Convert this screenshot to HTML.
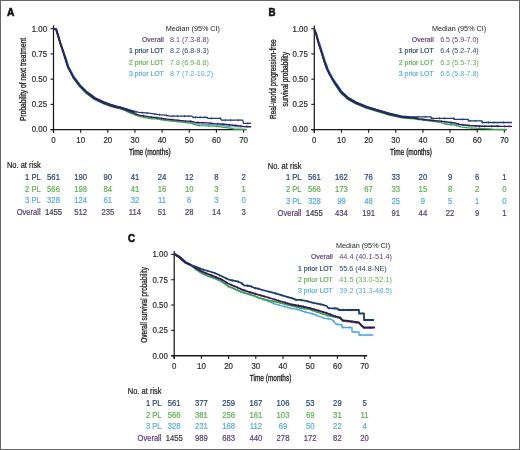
<!DOCTYPE html><html><head><meta charset="utf-8"><style>html,body{margin:0;padding:0;background:#fff;}svg{display:block;will-change:transform;}text{font-family:"Liberation Sans", sans-serif;}</style></head><body>
<svg width="520" height="450" viewBox="0 0 520 450">
<rect x="0" y="0" width="520" height="450" fill="#fff"/>
<text x="7.10" y="16.00" font-size="10.6" text-anchor="start" fill="#111" font-weight="bold" textLength="7.4" lengthAdjust="spacingAndGlyphs" stroke="#111" stroke-width="0.6">A</text>
<line x1="53.5" y1="25.4" x2="53.5" y2="132.79999999999998" stroke="#1a1a1a" stroke-width="1.25"/>
<line x1="50.5" y1="129.6" x2="246.5" y2="129.6" stroke="#1a1a1a" stroke-width="1.4"/>
<line x1="50.5" y1="129.60" x2="53.5" y2="129.60" stroke="#1a1a1a" stroke-width="1.1"/>
<text transform="translate(47.10,132.40) scale(1,1.12)" font-size="7.9" text-anchor="end" fill="#2a2a2a" font-weight="normal" stroke="#2a2a2a" stroke-width="0.18">0.00</text>
<line x1="50.5" y1="104.38" x2="53.5" y2="104.38" stroke="#1a1a1a" stroke-width="1.1"/>
<text transform="translate(47.10,107.17) scale(1,1.12)" font-size="7.9" text-anchor="end" fill="#2a2a2a" font-weight="normal" stroke="#2a2a2a" stroke-width="0.18">0.25</text>
<line x1="50.5" y1="79.15" x2="53.5" y2="79.15" stroke="#1a1a1a" stroke-width="1.1"/>
<text transform="translate(47.10,81.95) scale(1,1.12)" font-size="7.9" text-anchor="end" fill="#2a2a2a" font-weight="normal" stroke="#2a2a2a" stroke-width="0.18">0.50</text>
<line x1="50.5" y1="53.92" x2="53.5" y2="53.92" stroke="#1a1a1a" stroke-width="1.1"/>
<text transform="translate(47.10,56.72) scale(1,1.12)" font-size="7.9" text-anchor="end" fill="#2a2a2a" font-weight="normal" stroke="#2a2a2a" stroke-width="0.18">0.75</text>
<line x1="50.5" y1="28.70" x2="53.5" y2="28.70" stroke="#1a1a1a" stroke-width="1.1"/>
<text transform="translate(47.10,31.50) scale(1,1.12)" font-size="7.9" text-anchor="end" fill="#2a2a2a" font-weight="normal" stroke="#2a2a2a" stroke-width="0.18">1.00</text>
<line x1="53.50" y1="129.6" x2="53.50" y2="132.79999999999998" stroke="#1a1a1a" stroke-width="1.1"/>
<text transform="translate(53.50,142.90) scale(1,1.12)" font-size="7.9" text-anchor="middle" fill="#2a2a2a" font-weight="normal" stroke="#2a2a2a" stroke-width="0.18">0</text>
<line x1="80.65" y1="129.6" x2="80.65" y2="132.79999999999998" stroke="#1a1a1a" stroke-width="1.1"/>
<text transform="translate(80.65,142.90) scale(1,1.12)" font-size="7.9" text-anchor="middle" fill="#2a2a2a" font-weight="normal" stroke="#2a2a2a" stroke-width="0.18">10</text>
<line x1="107.80" y1="129.6" x2="107.80" y2="132.79999999999998" stroke="#1a1a1a" stroke-width="1.1"/>
<text transform="translate(107.80,142.90) scale(1,1.12)" font-size="7.9" text-anchor="middle" fill="#2a2a2a" font-weight="normal" stroke="#2a2a2a" stroke-width="0.18">20</text>
<line x1="134.95" y1="129.6" x2="134.95" y2="132.79999999999998" stroke="#1a1a1a" stroke-width="1.1"/>
<text transform="translate(134.95,142.90) scale(1,1.12)" font-size="7.9" text-anchor="middle" fill="#2a2a2a" font-weight="normal" stroke="#2a2a2a" stroke-width="0.18">30</text>
<line x1="162.10" y1="129.6" x2="162.10" y2="132.79999999999998" stroke="#1a1a1a" stroke-width="1.1"/>
<text transform="translate(162.10,142.90) scale(1,1.12)" font-size="7.9" text-anchor="middle" fill="#2a2a2a" font-weight="normal" stroke="#2a2a2a" stroke-width="0.18">40</text>
<line x1="189.25" y1="129.6" x2="189.25" y2="132.79999999999998" stroke="#1a1a1a" stroke-width="1.1"/>
<text transform="translate(189.25,142.90) scale(1,1.12)" font-size="7.9" text-anchor="middle" fill="#2a2a2a" font-weight="normal" stroke="#2a2a2a" stroke-width="0.18">50</text>
<line x1="216.40" y1="129.6" x2="216.40" y2="132.79999999999998" stroke="#1a1a1a" stroke-width="1.1"/>
<text transform="translate(216.40,142.90) scale(1,1.12)" font-size="7.9" text-anchor="middle" fill="#2a2a2a" font-weight="normal" stroke="#2a2a2a" stroke-width="0.18">60</text>
<line x1="243.55" y1="129.6" x2="243.55" y2="132.79999999999998" stroke="#1a1a1a" stroke-width="1.1"/>
<text transform="translate(243.55,142.90) scale(1,1.12)" font-size="7.9" text-anchor="middle" fill="#2a2a2a" font-weight="normal" stroke="#2a2a2a" stroke-width="0.18">70</text>
<text x="129.00" y="155.20" font-size="8.5" text-anchor="start" fill="#1a1a1a" font-weight="normal" textLength="41.7" lengthAdjust="spacingAndGlyphs" stroke="#1a1a1a" stroke-width="0.3">Time (months)</text>
<text transform="translate(25.9,79.4) rotate(-90)" x="0" y="0" font-size="9.6" text-anchor="middle" fill="#1a1a1a" stroke="#1a1a1a" stroke-width="0.3" textLength="83.2" lengthAdjust="spacingAndGlyphs">Probability of next treatment</text>
<text x="165.80" y="30.90" font-size="7.3" text-anchor="start" fill="#222" font-weight="normal" textLength="54.2" lengthAdjust="spacingAndGlyphs">Median (95% CI)</text>
<text x="163.80" y="42.10" font-size="6.9" text-anchor="end" fill="#5b3a72" font-weight="normal" stroke="#5b3a72" stroke-width="0.18">Overall</text>
<text x="170.00" y="42.10" font-size="7.2" text-anchor="start" fill="#5b3a72" font-weight="normal" textLength="38.8" lengthAdjust="spacingAndGlyphs">8.1 (7.3-8.8)</text>
<text x="163.80" y="53.30" font-size="6.9" text-anchor="end" fill="#2a4572" font-weight="normal" stroke="#2a4572" stroke-width="0.18">1 prior LOT</text>
<text x="170.00" y="53.30" font-size="7.2" text-anchor="start" fill="#2a4572" font-weight="normal" textLength="38.8" lengthAdjust="spacingAndGlyphs">8.2 (6.8-9.3)</text>
<text x="163.80" y="64.50" font-size="6.9" text-anchor="end" fill="#62ad52" font-weight="normal" stroke="#62ad52" stroke-width="0.18">2 prior LOT</text>
<text x="170.00" y="64.50" font-size="7.2" text-anchor="start" fill="#62ad52" font-weight="normal" textLength="38.8" lengthAdjust="spacingAndGlyphs">7.8 (6.9-8.8)</text>
<text x="163.80" y="75.70" font-size="6.9" text-anchor="end" fill="#56abdc" font-weight="normal" stroke="#56abdc" stroke-width="0.18">3 prior LOT</text>
<text x="170.00" y="75.70" font-size="7.2" text-anchor="start" fill="#56abdc" font-weight="normal" textLength="43.2" lengthAdjust="spacingAndGlyphs">8.7 (7.2-10.2)</text>
<polyline points="53.60,28.70 56.20,29.40 60.20,42.80 63.80,53.40 64.70,56.30 68.00,67.00 73.30,77.00 80.00,85.80 86.70,92.60 94.70,98.50 100.00,101.00 104.00,102.90 110.00,105.10 116.00,106.90 120.00,107.80 129.60,112.50 139.20,115.70 148.80,117.45 158.50,118.50 165.00,119.65 174.60,120.60 184.20,121.60 191.90,122.30 196.00,123.85 200.00,124.15 207.30,124.37 215.00,124.90 221.50,125.49 224.20,125.79 230.00,126.54 243.60,126.90 251.00,127.00" fill="none" stroke="#4aa6dc" stroke-width="1.3" stroke-linejoin="round" stroke-linecap="butt" opacity="1"/>
<polyline points="53.60,28.70 56.20,29.40 60.20,42.80 63.80,53.40 64.70,56.30 68.00,67.00 73.30,77.00 80.00,85.80 86.70,92.60 94.70,98.50 100.00,101.00 104.00,102.90 110.00,105.10 116.00,106.90 120.00,107.80 129.60,113.00 139.20,116.30 148.80,118.30 158.50,119.20 165.00,120.40 174.60,121.30 184.20,122.30 191.90,123.30 196.00,125.20 200.00,125.70 215.00,126.20 224.20,127.30 230.00,128.20 234.00,129.00 246.50,129.40" fill="none" stroke="#3fa24a" stroke-width="1.3" stroke-linejoin="round" stroke-linecap="butt" opacity="1"/>
<path d="M136.00 114.20v2.00M143.69 116.24v2.00M152.04 117.60v2.00M160.70 118.61v2.00M170.17 119.88v2.00M178.52 120.71v2.00M187.88 121.78v2.00M192.24 122.46v2.00M199.05 124.58v2.00M208.53 124.98v2.00M216.37 125.36v2.00" stroke="#3fa24a" stroke-width="0.8" fill="none"/>
<polyline points="53.60,28.70 56.20,29.40 60.20,42.80 63.80,53.40 64.70,56.30 68.00,67.00 73.30,77.00 80.00,85.80 86.70,92.60 94.70,98.50 100.00,101.00 104.00,102.90 110.00,105.10 116.00,106.90 120.00,107.80 129.60,112.00 139.20,115.10 148.80,116.60 158.50,117.80 165.00,118.90 174.60,119.90 184.20,120.90 191.90,121.30 195.80,122.50 207.30,122.80 215.00,123.60 221.50,124.00 231.20,125.00 243.60,126.40 251.20,126.60" fill="none" stroke="#3a1a55" stroke-width="1.3" stroke-linejoin="round" stroke-linecap="butt" opacity="1"/>
<path d="M136.00 112.97v2.20M143.41 114.66v2.20M150.95 115.77v2.20M156.88 116.50v2.20M161.74 117.25v2.20M165.34 117.84v2.20M172.12 118.54v2.20M177.98 119.15v2.20M185.22 119.85v2.20M190.62 120.13v2.20M197.91 121.46v2.20M202.82 121.58v2.20M210.27 122.01v2.20M217.37 122.65v2.20M222.96 123.05v2.20M229.15 123.69v2.20M236.02 124.44v2.20M240.55 124.96v2.20M246.80 125.38v2.20" stroke="#3a1a55" stroke-width="0.8" fill="none"/>
<polyline points="53.60,28.70 56.20,29.40 60.20,42.80 63.80,53.40 64.70,56.30 68.00,67.00 73.30,77.00 80.00,85.80 86.70,92.60 94.70,98.50 100.00,101.00 104.00,102.90 110.00,105.10 116.00,106.90 120.00,107.80 129.60,110.50 139.20,112.30 148.80,113.20 158.50,114.60 165.00,115.10 169.80,116.10 191.90,116.10 193.00,117.30 207.30,117.30 207.80,118.40 220.60,118.40 221.50,120.20 242.70,120.20 243.50,123.30 251.20,123.30" fill="none" stroke="#1d3c6c" stroke-width="1.3" stroke-linejoin="round" stroke-linecap="butt" opacity="1"/>
<path d="M136.00 110.60v2.20M142.01 111.46v2.20M147.06 111.94v2.20M154.90 112.98v2.20M159.51 113.58v2.20M166.71 114.36v2.20M172.96 115.00v2.20M177.48 115.00v2.20M184.52 115.00v2.20M188.93 115.00v2.20M195.56 116.20v2.20M200.15 116.20v2.20M204.86 116.20v2.20M211.44 117.30v2.20M220.27 117.30v2.20M225.16 119.10v2.20M230.61 119.10v2.20M238.33 119.10v2.20M247.83 122.20v2.20" stroke="#1d3c6c" stroke-width="0.8" fill="none"/>
<polyline points="65.40,55.60 68.70,66.30 74.00,76.30 80.70,85.10 87.40,91.90 95.40,97.80 100.70,100.30 104.70,102.20 110.70,104.40 116.70,106.20 120.70,107.10 130.30,110.10 135.70,111.90" fill="none" stroke="#4aa6dc" stroke-width="1.2" stroke-linejoin="round" stroke-linecap="butt" opacity="1"/>
<polyline points="72.90,78.00 79.60,86.80 86.30,93.60 94.30,99.50 99.60,102.00 103.60,103.90 109.60,106.10 115.60,107.90 119.60,108.80 129.20,111.80 134.60,113.60" fill="none" stroke="#3fa24a" stroke-width="1.1" stroke-linejoin="round" stroke-linecap="butt" opacity="1"/>
<polyline points="87.20,91.80 95.20,97.70 100.50,100.20 104.50,102.10 110.50,104.30 116.50,106.10 120.50,107.00 130.10,110.00 135.50,111.80" fill="none" stroke="#1d3c6c" stroke-width="1.1" stroke-linejoin="round" stroke-linecap="butt" opacity="1"/>
<polyline points="53.60,28.70 56.20,29.40 60.20,42.80 63.80,53.40 64.70,56.30 68.00,67.00 73.30,77.00 80.00,85.80 86.70,92.60 94.70,98.50 100.00,101.00 104.00,102.90 110.00,105.10 116.00,106.90 120.00,107.80 129.60,110.80 135.00,112.60" fill="none" stroke="#2d2658" stroke-width="2.2" stroke-linejoin="round" stroke-linecap="butt" opacity="1"/>
<text transform="translate(6.90,168.20) scale(1,1.08)" font-size="7.6" text-anchor="start" fill="#222" font-weight="normal" textLength="33.8" lengthAdjust="spacingAndGlyphs" stroke="#222" stroke-width="0.18">No. at risk</text>
<text transform="translate(40.70,179.90) scale(1,1.1)" font-size="7.6" text-anchor="end" fill="#2a4572" font-weight="normal" stroke="#2a4572" stroke-width="0.18">1 PL</text>
<text transform="translate(53.50,179.90) scale(1,1.1)" font-size="7.7" text-anchor="middle" fill="#2a4572" font-weight="normal" stroke="#2a4572" stroke-width="0.18">561</text>
<text transform="translate(80.65,179.90) scale(1,1.1)" font-size="7.7" text-anchor="middle" fill="#2a4572" font-weight="normal" stroke="#2a4572" stroke-width="0.18">190</text>
<text transform="translate(107.80,179.90) scale(1,1.1)" font-size="7.7" text-anchor="middle" fill="#2a4572" font-weight="normal" stroke="#2a4572" stroke-width="0.18">90</text>
<text transform="translate(134.95,179.90) scale(1,1.1)" font-size="7.7" text-anchor="middle" fill="#2a4572" font-weight="normal" stroke="#2a4572" stroke-width="0.18">41</text>
<text transform="translate(162.10,179.90) scale(1,1.1)" font-size="7.7" text-anchor="middle" fill="#2a4572" font-weight="normal" stroke="#2a4572" stroke-width="0.18">24</text>
<text transform="translate(189.25,179.90) scale(1,1.1)" font-size="7.7" text-anchor="middle" fill="#2a4572" font-weight="normal" stroke="#2a4572" stroke-width="0.18">12</text>
<text transform="translate(216.40,179.90) scale(1,1.1)" font-size="7.7" text-anchor="middle" fill="#2a4572" font-weight="normal" stroke="#2a4572" stroke-width="0.18">8</text>
<text transform="translate(243.55,179.90) scale(1,1.1)" font-size="7.7" text-anchor="middle" fill="#2a4572" font-weight="normal" stroke="#2a4572" stroke-width="0.18">2</text>
<text transform="translate(40.70,191.60) scale(1,1.1)" font-size="7.6" text-anchor="end" fill="#62ad52" font-weight="normal" stroke="#62ad52" stroke-width="0.18">2 PL</text>
<text transform="translate(53.50,191.60) scale(1,1.1)" font-size="7.7" text-anchor="middle" fill="#62ad52" font-weight="normal" stroke="#62ad52" stroke-width="0.18">566</text>
<text transform="translate(80.65,191.60) scale(1,1.1)" font-size="7.7" text-anchor="middle" fill="#62ad52" font-weight="normal" stroke="#62ad52" stroke-width="0.18">198</text>
<text transform="translate(107.80,191.60) scale(1,1.1)" font-size="7.7" text-anchor="middle" fill="#62ad52" font-weight="normal" stroke="#62ad52" stroke-width="0.18">84</text>
<text transform="translate(134.95,191.60) scale(1,1.1)" font-size="7.7" text-anchor="middle" fill="#62ad52" font-weight="normal" stroke="#62ad52" stroke-width="0.18">41</text>
<text transform="translate(162.10,191.60) scale(1,1.1)" font-size="7.7" text-anchor="middle" fill="#62ad52" font-weight="normal" stroke="#62ad52" stroke-width="0.18">16</text>
<text transform="translate(189.25,191.60) scale(1,1.1)" font-size="7.7" text-anchor="middle" fill="#62ad52" font-weight="normal" stroke="#62ad52" stroke-width="0.18">10</text>
<text transform="translate(216.40,191.60) scale(1,1.1)" font-size="7.7" text-anchor="middle" fill="#62ad52" font-weight="normal" stroke="#62ad52" stroke-width="0.18">3</text>
<text transform="translate(243.55,191.60) scale(1,1.1)" font-size="7.7" text-anchor="middle" fill="#62ad52" font-weight="normal" stroke="#62ad52" stroke-width="0.18">1</text>
<text transform="translate(40.70,203.30) scale(1,1.1)" font-size="7.6" text-anchor="end" fill="#56abdc" font-weight="normal" stroke="#56abdc" stroke-width="0.18">3 PL</text>
<text transform="translate(53.50,203.30) scale(1,1.1)" font-size="7.7" text-anchor="middle" fill="#56abdc" font-weight="normal" stroke="#56abdc" stroke-width="0.18">328</text>
<text transform="translate(80.65,203.30) scale(1,1.1)" font-size="7.7" text-anchor="middle" fill="#56abdc" font-weight="normal" stroke="#56abdc" stroke-width="0.18">124</text>
<text transform="translate(107.80,203.30) scale(1,1.1)" font-size="7.7" text-anchor="middle" fill="#56abdc" font-weight="normal" stroke="#56abdc" stroke-width="0.18">61</text>
<text transform="translate(134.95,203.30) scale(1,1.1)" font-size="7.7" text-anchor="middle" fill="#56abdc" font-weight="normal" stroke="#56abdc" stroke-width="0.18">32</text>
<text transform="translate(162.10,203.30) scale(1,1.1)" font-size="7.7" text-anchor="middle" fill="#56abdc" font-weight="normal" stroke="#56abdc" stroke-width="0.18">11</text>
<text transform="translate(189.25,203.30) scale(1,1.1)" font-size="7.7" text-anchor="middle" fill="#56abdc" font-weight="normal" stroke="#56abdc" stroke-width="0.18">6</text>
<text transform="translate(216.40,203.30) scale(1,1.1)" font-size="7.7" text-anchor="middle" fill="#56abdc" font-weight="normal" stroke="#56abdc" stroke-width="0.18">3</text>
<text transform="translate(243.55,203.30) scale(1,1.1)" font-size="7.7" text-anchor="middle" fill="#56abdc" font-weight="normal" stroke="#56abdc" stroke-width="0.18">0</text>
<text transform="translate(40.70,215.00) scale(1,1.1)" font-size="7.6" text-anchor="end" fill="#5b3a72" font-weight="normal" stroke="#5b3a72" stroke-width="0.18">Overall</text>
<text transform="translate(53.50,215.00) scale(1,1.1)" font-size="7.7" text-anchor="middle" fill="#3a3540" font-weight="normal" stroke="#3a3540" stroke-width="0.18">1455</text>
<text transform="translate(80.65,215.00) scale(1,1.1)" font-size="7.7" text-anchor="middle" fill="#513c68" font-weight="normal" stroke="#513c68" stroke-width="0.18">512</text>
<text transform="translate(107.80,215.00) scale(1,1.1)" font-size="7.7" text-anchor="middle" fill="#513c68" font-weight="normal" stroke="#513c68" stroke-width="0.18">235</text>
<text transform="translate(134.95,215.00) scale(1,1.1)" font-size="7.7" text-anchor="middle" fill="#513c68" font-weight="normal" stroke="#513c68" stroke-width="0.18">114</text>
<text transform="translate(162.10,215.00) scale(1,1.1)" font-size="7.7" text-anchor="middle" fill="#513c68" font-weight="normal" stroke="#513c68" stroke-width="0.18">51</text>
<text transform="translate(189.25,215.00) scale(1,1.1)" font-size="7.7" text-anchor="middle" fill="#513c68" font-weight="normal" stroke="#513c68" stroke-width="0.18">28</text>
<text transform="translate(216.40,215.00) scale(1,1.1)" font-size="7.7" text-anchor="middle" fill="#513c68" font-weight="normal" stroke="#513c68" stroke-width="0.18">14</text>
<text transform="translate(243.55,215.00) scale(1,1.1)" font-size="7.7" text-anchor="middle" fill="#513c68" font-weight="normal" stroke="#513c68" stroke-width="0.18">3</text>
<text x="268.40" y="16.00" font-size="10.6" text-anchor="start" fill="#111" font-weight="bold" textLength="7.0" lengthAdjust="spacingAndGlyphs" stroke="#111" stroke-width="0.6">B</text>
<line x1="314.3" y1="25.4" x2="314.3" y2="132.79999999999998" stroke="#1a1a1a" stroke-width="1.25"/>
<line x1="311.3" y1="129.6" x2="507.0" y2="129.6" stroke="#1a1a1a" stroke-width="1.4"/>
<line x1="311.3" y1="129.60" x2="314.3" y2="129.60" stroke="#1a1a1a" stroke-width="1.1"/>
<text transform="translate(307.90,132.40) scale(1,1.12)" font-size="7.9" text-anchor="end" fill="#2a2a2a" font-weight="normal" stroke="#2a2a2a" stroke-width="0.18">0.00</text>
<line x1="311.3" y1="104.38" x2="314.3" y2="104.38" stroke="#1a1a1a" stroke-width="1.1"/>
<text transform="translate(307.90,107.17) scale(1,1.12)" font-size="7.9" text-anchor="end" fill="#2a2a2a" font-weight="normal" stroke="#2a2a2a" stroke-width="0.18">0.25</text>
<line x1="311.3" y1="79.15" x2="314.3" y2="79.15" stroke="#1a1a1a" stroke-width="1.1"/>
<text transform="translate(307.90,81.95) scale(1,1.12)" font-size="7.9" text-anchor="end" fill="#2a2a2a" font-weight="normal" stroke="#2a2a2a" stroke-width="0.18">0.50</text>
<line x1="311.3" y1="53.92" x2="314.3" y2="53.92" stroke="#1a1a1a" stroke-width="1.1"/>
<text transform="translate(307.90,56.72) scale(1,1.12)" font-size="7.9" text-anchor="end" fill="#2a2a2a" font-weight="normal" stroke="#2a2a2a" stroke-width="0.18">0.75</text>
<line x1="311.3" y1="28.70" x2="314.3" y2="28.70" stroke="#1a1a1a" stroke-width="1.1"/>
<text transform="translate(307.90,31.50) scale(1,1.12)" font-size="7.9" text-anchor="end" fill="#2a2a2a" font-weight="normal" stroke="#2a2a2a" stroke-width="0.18">1.00</text>
<line x1="314.30" y1="129.6" x2="314.30" y2="132.79999999999998" stroke="#1a1a1a" stroke-width="1.1"/>
<text transform="translate(314.30,142.90) scale(1,1.12)" font-size="7.9" text-anchor="middle" fill="#2a2a2a" font-weight="normal" stroke="#2a2a2a" stroke-width="0.18">0</text>
<line x1="341.45" y1="129.6" x2="341.45" y2="132.79999999999998" stroke="#1a1a1a" stroke-width="1.1"/>
<text transform="translate(341.45,142.90) scale(1,1.12)" font-size="7.9" text-anchor="middle" fill="#2a2a2a" font-weight="normal" stroke="#2a2a2a" stroke-width="0.18">10</text>
<line x1="368.60" y1="129.6" x2="368.60" y2="132.79999999999998" stroke="#1a1a1a" stroke-width="1.1"/>
<text transform="translate(368.60,142.90) scale(1,1.12)" font-size="7.9" text-anchor="middle" fill="#2a2a2a" font-weight="normal" stroke="#2a2a2a" stroke-width="0.18">20</text>
<line x1="395.75" y1="129.6" x2="395.75" y2="132.79999999999998" stroke="#1a1a1a" stroke-width="1.1"/>
<text transform="translate(395.75,142.90) scale(1,1.12)" font-size="7.9" text-anchor="middle" fill="#2a2a2a" font-weight="normal" stroke="#2a2a2a" stroke-width="0.18">30</text>
<line x1="422.90" y1="129.6" x2="422.90" y2="132.79999999999998" stroke="#1a1a1a" stroke-width="1.1"/>
<text transform="translate(422.90,142.90) scale(1,1.12)" font-size="7.9" text-anchor="middle" fill="#2a2a2a" font-weight="normal" stroke="#2a2a2a" stroke-width="0.18">40</text>
<line x1="450.05" y1="129.6" x2="450.05" y2="132.79999999999998" stroke="#1a1a1a" stroke-width="1.1"/>
<text transform="translate(450.05,142.90) scale(1,1.12)" font-size="7.9" text-anchor="middle" fill="#2a2a2a" font-weight="normal" stroke="#2a2a2a" stroke-width="0.18">50</text>
<line x1="477.20" y1="129.6" x2="477.20" y2="132.79999999999998" stroke="#1a1a1a" stroke-width="1.1"/>
<text transform="translate(477.20,142.90) scale(1,1.12)" font-size="7.9" text-anchor="middle" fill="#2a2a2a" font-weight="normal" stroke="#2a2a2a" stroke-width="0.18">60</text>
<line x1="504.35" y1="129.6" x2="504.35" y2="132.79999999999998" stroke="#1a1a1a" stroke-width="1.1"/>
<text transform="translate(504.35,142.90) scale(1,1.12)" font-size="7.9" text-anchor="middle" fill="#2a2a2a" font-weight="normal" stroke="#2a2a2a" stroke-width="0.18">70</text>
<text x="390.10" y="155.20" font-size="8.5" text-anchor="start" fill="#1a1a1a" font-weight="normal" textLength="41.8" lengthAdjust="spacingAndGlyphs" stroke="#1a1a1a" stroke-width="0.3">Time (months)</text>
<text transform="translate(275.5,79.2) rotate(-90)" x="0" y="0" font-size="9.6" text-anchor="middle" fill="#1a1a1a" stroke="#1a1a1a" stroke-width="0.3" textLength="79.5" lengthAdjust="spacingAndGlyphs">Real-world progression-free</text>
<text transform="translate(287.6,79.2) rotate(-90)" x="0" y="0" font-size="9.6" text-anchor="middle" fill="#1a1a1a" stroke="#1a1a1a" stroke-width="0.3" textLength="54.4" lengthAdjust="spacingAndGlyphs">survival probability</text>
<text x="432.00" y="30.90" font-size="7.3" text-anchor="start" fill="#222" font-weight="normal" textLength="54.2" lengthAdjust="spacingAndGlyphs">Median (95% CI)</text>
<text x="433.70" y="42.10" font-size="6.9" text-anchor="end" fill="#5b3a72" font-weight="normal" stroke="#5b3a72" stroke-width="0.18">Overall</text>
<text x="440.20" y="42.10" font-size="7.2" text-anchor="start" fill="#5b3a72" font-weight="normal" textLength="38.5" lengthAdjust="spacingAndGlyphs">6.5 (5.9-7.0)</text>
<text x="433.70" y="53.30" font-size="6.9" text-anchor="end" fill="#2a4572" font-weight="normal" stroke="#2a4572" stroke-width="0.18">1 prior LOT</text>
<text x="440.20" y="53.30" font-size="7.2" text-anchor="start" fill="#2a4572" font-weight="normal" textLength="38.5" lengthAdjust="spacingAndGlyphs">6.4 (5.2-7.4)</text>
<text x="433.70" y="64.50" font-size="6.9" text-anchor="end" fill="#62ad52" font-weight="normal" stroke="#62ad52" stroke-width="0.18">2 prior LOT</text>
<text x="440.20" y="64.50" font-size="7.2" text-anchor="start" fill="#62ad52" font-weight="normal" textLength="38.5" lengthAdjust="spacingAndGlyphs">6.3 (5.5-7.3)</text>
<text x="433.70" y="75.70" font-size="6.9" text-anchor="end" fill="#56abdc" font-weight="normal" stroke="#56abdc" stroke-width="0.18">3 prior LOT</text>
<text x="440.20" y="75.70" font-size="7.2" text-anchor="start" fill="#56abdc" font-weight="normal" textLength="38.5" lengthAdjust="spacingAndGlyphs">6.5 (5.8-7.8)</text>
<polyline points="314.40,29.60 315.00,31.20 316.20,34.00 318.80,43.50 321.20,51.00 323.20,57.50 326.50,64.30 328.60,71.00 327.10,69.00 329.70,74.30 332.00,78.30 336.00,84.60 341.10,92.20 347.80,98.30 355.60,102.80 366.50,107.30 378.10,110.80 389.60,114.20 401.10,116.80 410.00,117.60 417.30,118.50 427.70,119.80 440.40,121.30 448.40,122.60 455.00,124.00 460.00,124.80 470.00,125.50 485.00,125.80 500.00,126.00" fill="none" stroke="#4aa6dc" stroke-width="1.3" stroke-linejoin="round" stroke-linecap="butt" opacity="1"/>
<polyline points="314.40,29.60 315.00,31.20 316.20,34.00 318.80,43.50 321.20,51.00 323.20,57.50 325.10,63.50 327.10,69.00 329.70,74.30 332.00,78.30 336.00,84.60 341.10,92.20 347.80,98.30 355.60,102.80 366.50,107.30 378.10,110.80 389.60,114.20 401.10,116.80 410.00,117.60 417.30,119.40 427.70,120.60 440.40,122.30 445.00,124.00 455.00,125.20 460.80,126.90 468.80,127.80 490.00,128.80 494.00,129.40 507.00,129.50" fill="none" stroke="#3fa24a" stroke-width="1.3" stroke-linejoin="round" stroke-linecap="butt" opacity="1"/>
<path d="M418.00 118.48v2.00M423.47 119.11v2.00M433.06 120.32v2.00M437.97 120.97v2.00M446.11 123.13v2.00M450.79 123.69v2.00M456.38 124.60v2.00M466.17 126.50v2.00M471.54 126.93v2.00M479.34 127.30v2.00" stroke="#3fa24a" stroke-width="0.8" fill="none"/>
<polyline points="314.40,29.60 315.00,31.20 316.20,34.00 318.80,43.50 321.20,51.00 323.20,57.50 325.10,63.50 327.10,69.00 329.70,74.30 332.00,78.30 336.00,84.60 341.10,92.20 347.80,98.30 355.60,102.80 366.50,107.30 378.10,110.80 389.60,114.20 401.10,116.80 410.00,117.60 417.30,118.80 427.70,120.00 440.40,121.10 448.40,122.10 455.00,122.90 459.60,124.40 468.80,125.50 482.70,126.30 512.00,126.30" fill="none" stroke="#3a1a55" stroke-width="1.3" stroke-linejoin="round" stroke-linecap="butt" opacity="1"/>
<path d="M418.00 117.78v2.20M423.82 118.45v2.20M429.21 119.03v2.20M433.48 119.40v2.20M441.24 120.10v2.20M444.87 120.56v2.20M450.88 121.30v2.20M458.79 123.04v2.20M462.78 123.68v2.20M469.04 124.41v2.20M475.60 124.79v2.20M479.40 125.01v2.20M484.82 125.20v2.20M491.80 125.20v2.20M497.57 125.20v2.20M504.65 125.20v2.20M509.00 125.20v2.20" stroke="#3a1a55" stroke-width="0.8" fill="none"/>
<polyline points="314.40,29.60 315.00,31.20 316.20,34.00 318.80,43.50 321.20,51.00 323.20,57.50 325.10,63.50 327.10,69.00 329.70,74.30 332.00,78.30 336.00,84.60 341.10,92.20 347.80,98.30 355.60,102.80 366.50,107.30 378.10,110.80 389.60,114.20 401.10,116.80 410.00,117.60 417.30,116.80 431.10,116.80 431.10,118.30 454.20,118.30 454.20,119.40 468.30,119.40 468.30,120.90 482.10,120.90 482.10,122.50 512.10,122.50" fill="none" stroke="#1d3c6c" stroke-width="1.3" stroke-linejoin="round" stroke-linecap="butt" opacity="1"/>
<path d="M418.00 115.70v2.20M425.40 115.70v2.20M432.00 117.20v2.20M439.44 117.20v2.20M444.79 117.20v2.20M453.55 117.20v2.20M462.36 118.30v2.20M470.22 119.80v2.20M475.32 119.80v2.20M482.43 121.40v2.20M488.47 121.40v2.20M494.07 121.40v2.20M503.60 121.40v2.20" stroke="#1d3c6c" stroke-width="0.8" fill="none"/>
<polyline points="319.50,42.80 321.90,50.30 323.90,56.80 325.80,62.80 327.80,68.30 330.40,73.60 332.70,77.60 336.70,83.90 341.80,91.50 348.50,97.60 356.30,102.10 367.20,106.60 378.80,110.10 390.30,113.50 401.80,116.10 410.70,116.90 418.00,117.30" fill="none" stroke="#4aa6dc" stroke-width="1.2" stroke-linejoin="round" stroke-linecap="butt" opacity="1"/>
<polyline points="331.60,79.30 335.60,85.60 340.70,93.20 347.40,99.30 355.20,103.80 366.10,108.30 377.70,111.80 389.20,115.20 400.70,117.80 409.60,118.60 416.90,119.00" fill="none" stroke="#3fa24a" stroke-width="1.1" stroke-linejoin="round" stroke-linecap="butt" opacity="1"/>
<polyline points="336.50,83.80 341.60,91.40 348.30,97.50 356.10,102.00 367.00,106.50 378.60,110.00 390.10,113.40 401.60,116.00 410.50,116.80 417.80,117.20" fill="none" stroke="#1d3c6c" stroke-width="1.1" stroke-linejoin="round" stroke-linecap="butt" opacity="1"/>
<polyline points="314.40,29.60 315.00,31.20 316.20,34.00 318.80,43.50 321.20,51.00 323.20,57.50 325.10,63.50 327.10,69.00 329.70,74.30 332.00,78.30 336.00,84.60 341.10,92.20 347.80,98.30 355.60,102.80 366.50,107.30 378.10,110.80 389.60,114.20 401.10,116.80 410.00,117.60 417.30,118.00" fill="none" stroke="#2d2658" stroke-width="2.2" stroke-linejoin="round" stroke-linecap="butt" opacity="1"/>
<text transform="translate(267.80,168.70) scale(1,1.08)" font-size="7.6" text-anchor="start" fill="#222" font-weight="normal" textLength="33.8" lengthAdjust="spacingAndGlyphs" stroke="#222" stroke-width="0.18">No. at risk</text>
<text transform="translate(301.50,180.40) scale(1,1.1)" font-size="7.6" text-anchor="end" fill="#2a4572" font-weight="normal" stroke="#2a4572" stroke-width="0.18">1 PL</text>
<text transform="translate(314.30,180.40) scale(1,1.1)" font-size="7.7" text-anchor="middle" fill="#2a4572" font-weight="normal" stroke="#2a4572" stroke-width="0.18">561</text>
<text transform="translate(341.45,180.40) scale(1,1.1)" font-size="7.7" text-anchor="middle" fill="#2a4572" font-weight="normal" stroke="#2a4572" stroke-width="0.18">162</text>
<text transform="translate(368.60,180.40) scale(1,1.1)" font-size="7.7" text-anchor="middle" fill="#2a4572" font-weight="normal" stroke="#2a4572" stroke-width="0.18">76</text>
<text transform="translate(395.75,180.40) scale(1,1.1)" font-size="7.7" text-anchor="middle" fill="#2a4572" font-weight="normal" stroke="#2a4572" stroke-width="0.18">33</text>
<text transform="translate(422.90,180.40) scale(1,1.1)" font-size="7.7" text-anchor="middle" fill="#2a4572" font-weight="normal" stroke="#2a4572" stroke-width="0.18">20</text>
<text transform="translate(450.05,180.40) scale(1,1.1)" font-size="7.7" text-anchor="middle" fill="#2a4572" font-weight="normal" stroke="#2a4572" stroke-width="0.18">9</text>
<text transform="translate(477.20,180.40) scale(1,1.1)" font-size="7.7" text-anchor="middle" fill="#2a4572" font-weight="normal" stroke="#2a4572" stroke-width="0.18">6</text>
<text transform="translate(504.35,180.40) scale(1,1.1)" font-size="7.7" text-anchor="middle" fill="#2a4572" font-weight="normal" stroke="#2a4572" stroke-width="0.18">1</text>
<text transform="translate(301.50,192.10) scale(1,1.1)" font-size="7.6" text-anchor="end" fill="#62ad52" font-weight="normal" stroke="#62ad52" stroke-width="0.18">2 PL</text>
<text transform="translate(314.30,192.10) scale(1,1.1)" font-size="7.7" text-anchor="middle" fill="#62ad52" font-weight="normal" stroke="#62ad52" stroke-width="0.18">566</text>
<text transform="translate(341.45,192.10) scale(1,1.1)" font-size="7.7" text-anchor="middle" fill="#62ad52" font-weight="normal" stroke="#62ad52" stroke-width="0.18">173</text>
<text transform="translate(368.60,192.10) scale(1,1.1)" font-size="7.7" text-anchor="middle" fill="#62ad52" font-weight="normal" stroke="#62ad52" stroke-width="0.18">67</text>
<text transform="translate(395.75,192.10) scale(1,1.1)" font-size="7.7" text-anchor="middle" fill="#62ad52" font-weight="normal" stroke="#62ad52" stroke-width="0.18">33</text>
<text transform="translate(422.90,192.10) scale(1,1.1)" font-size="7.7" text-anchor="middle" fill="#62ad52" font-weight="normal" stroke="#62ad52" stroke-width="0.18">15</text>
<text transform="translate(450.05,192.10) scale(1,1.1)" font-size="7.7" text-anchor="middle" fill="#62ad52" font-weight="normal" stroke="#62ad52" stroke-width="0.18">8</text>
<text transform="translate(477.20,192.10) scale(1,1.1)" font-size="7.7" text-anchor="middle" fill="#62ad52" font-weight="normal" stroke="#62ad52" stroke-width="0.18">2</text>
<text transform="translate(504.35,192.10) scale(1,1.1)" font-size="7.7" text-anchor="middle" fill="#62ad52" font-weight="normal" stroke="#62ad52" stroke-width="0.18">0</text>
<text transform="translate(301.50,203.80) scale(1,1.1)" font-size="7.6" text-anchor="end" fill="#56abdc" font-weight="normal" stroke="#56abdc" stroke-width="0.18">3 PL</text>
<text transform="translate(314.30,203.80) scale(1,1.1)" font-size="7.7" text-anchor="middle" fill="#56abdc" font-weight="normal" stroke="#56abdc" stroke-width="0.18">328</text>
<text transform="translate(341.45,203.80) scale(1,1.1)" font-size="7.7" text-anchor="middle" fill="#56abdc" font-weight="normal" stroke="#56abdc" stroke-width="0.18">99</text>
<text transform="translate(368.60,203.80) scale(1,1.1)" font-size="7.7" text-anchor="middle" fill="#56abdc" font-weight="normal" stroke="#56abdc" stroke-width="0.18">48</text>
<text transform="translate(395.75,203.80) scale(1,1.1)" font-size="7.7" text-anchor="middle" fill="#56abdc" font-weight="normal" stroke="#56abdc" stroke-width="0.18">25</text>
<text transform="translate(422.90,203.80) scale(1,1.1)" font-size="7.7" text-anchor="middle" fill="#56abdc" font-weight="normal" stroke="#56abdc" stroke-width="0.18">9</text>
<text transform="translate(450.05,203.80) scale(1,1.1)" font-size="7.7" text-anchor="middle" fill="#56abdc" font-weight="normal" stroke="#56abdc" stroke-width="0.18">5</text>
<text transform="translate(477.20,203.80) scale(1,1.1)" font-size="7.7" text-anchor="middle" fill="#56abdc" font-weight="normal" stroke="#56abdc" stroke-width="0.18">1</text>
<text transform="translate(504.35,203.80) scale(1,1.1)" font-size="7.7" text-anchor="middle" fill="#56abdc" font-weight="normal" stroke="#56abdc" stroke-width="0.18">0</text>
<text transform="translate(301.50,215.50) scale(1,1.1)" font-size="7.6" text-anchor="end" fill="#5b3a72" font-weight="normal" stroke="#5b3a72" stroke-width="0.18">Overall</text>
<text transform="translate(314.30,215.50) scale(1,1.1)" font-size="7.7" text-anchor="middle" fill="#3a3540" font-weight="normal" stroke="#3a3540" stroke-width="0.18">1455</text>
<text transform="translate(341.45,215.50) scale(1,1.1)" font-size="7.7" text-anchor="middle" fill="#513c68" font-weight="normal" stroke="#513c68" stroke-width="0.18">434</text>
<text transform="translate(368.60,215.50) scale(1,1.1)" font-size="7.7" text-anchor="middle" fill="#513c68" font-weight="normal" stroke="#513c68" stroke-width="0.18">191</text>
<text transform="translate(395.75,215.50) scale(1,1.1)" font-size="7.7" text-anchor="middle" fill="#513c68" font-weight="normal" stroke="#513c68" stroke-width="0.18">91</text>
<text transform="translate(422.90,215.50) scale(1,1.1)" font-size="7.7" text-anchor="middle" fill="#513c68" font-weight="normal" stroke="#513c68" stroke-width="0.18">44</text>
<text transform="translate(450.05,215.50) scale(1,1.1)" font-size="7.7" text-anchor="middle" fill="#513c68" font-weight="normal" stroke="#513c68" stroke-width="0.18">22</text>
<text transform="translate(477.20,215.50) scale(1,1.1)" font-size="7.7" text-anchor="middle" fill="#513c68" font-weight="normal" stroke="#513c68" stroke-width="0.18">9</text>
<text transform="translate(504.35,215.50) scale(1,1.1)" font-size="7.7" text-anchor="middle" fill="#513c68" font-weight="normal" stroke="#513c68" stroke-width="0.18">1</text>
<text x="128.10" y="242.40" font-size="10.6" text-anchor="start" fill="#111" font-weight="bold" textLength="7.0" lengthAdjust="spacingAndGlyphs" stroke="#111" stroke-width="0.6">C</text>
<line x1="174.2" y1="251.1" x2="174.2" y2="358.9" stroke="#1a1a1a" stroke-width="1.25"/>
<line x1="171.2" y1="355.7" x2="367.2" y2="355.7" stroke="#1a1a1a" stroke-width="1.4"/>
<line x1="171.2" y1="355.70" x2="174.2" y2="355.70" stroke="#1a1a1a" stroke-width="1.1"/>
<text transform="translate(167.80,358.50) scale(1,1.12)" font-size="7.9" text-anchor="end" fill="#2a2a2a" font-weight="normal" stroke="#2a2a2a" stroke-width="0.18">0.00</text>
<line x1="171.2" y1="330.38" x2="174.2" y2="330.38" stroke="#1a1a1a" stroke-width="1.1"/>
<text transform="translate(167.80,333.18) scale(1,1.12)" font-size="7.9" text-anchor="end" fill="#2a2a2a" font-weight="normal" stroke="#2a2a2a" stroke-width="0.18">0.25</text>
<line x1="171.2" y1="305.05" x2="174.2" y2="305.05" stroke="#1a1a1a" stroke-width="1.1"/>
<text transform="translate(167.80,307.85) scale(1,1.12)" font-size="7.9" text-anchor="end" fill="#2a2a2a" font-weight="normal" stroke="#2a2a2a" stroke-width="0.18">0.50</text>
<line x1="171.2" y1="279.73" x2="174.2" y2="279.73" stroke="#1a1a1a" stroke-width="1.1"/>
<text transform="translate(167.80,282.53) scale(1,1.12)" font-size="7.9" text-anchor="end" fill="#2a2a2a" font-weight="normal" stroke="#2a2a2a" stroke-width="0.18">0.75</text>
<line x1="171.2" y1="254.40" x2="174.2" y2="254.40" stroke="#1a1a1a" stroke-width="1.1"/>
<text transform="translate(167.80,257.20) scale(1,1.12)" font-size="7.9" text-anchor="end" fill="#2a2a2a" font-weight="normal" stroke="#2a2a2a" stroke-width="0.18">1.00</text>
<line x1="174.20" y1="355.7" x2="174.20" y2="358.9" stroke="#1a1a1a" stroke-width="1.1"/>
<text transform="translate(174.20,369.00) scale(1,1.12)" font-size="7.9" text-anchor="middle" fill="#2a2a2a" font-weight="normal" stroke="#2a2a2a" stroke-width="0.18">0</text>
<line x1="201.40" y1="355.7" x2="201.40" y2="358.9" stroke="#1a1a1a" stroke-width="1.1"/>
<text transform="translate(201.40,369.00) scale(1,1.12)" font-size="7.9" text-anchor="middle" fill="#2a2a2a" font-weight="normal" stroke="#2a2a2a" stroke-width="0.18">10</text>
<line x1="228.60" y1="355.7" x2="228.60" y2="358.9" stroke="#1a1a1a" stroke-width="1.1"/>
<text transform="translate(228.60,369.00) scale(1,1.12)" font-size="7.9" text-anchor="middle" fill="#2a2a2a" font-weight="normal" stroke="#2a2a2a" stroke-width="0.18">20</text>
<line x1="255.80" y1="355.7" x2="255.80" y2="358.9" stroke="#1a1a1a" stroke-width="1.1"/>
<text transform="translate(255.80,369.00) scale(1,1.12)" font-size="7.9" text-anchor="middle" fill="#2a2a2a" font-weight="normal" stroke="#2a2a2a" stroke-width="0.18">30</text>
<line x1="283.00" y1="355.7" x2="283.00" y2="358.9" stroke="#1a1a1a" stroke-width="1.1"/>
<text transform="translate(283.00,369.00) scale(1,1.12)" font-size="7.9" text-anchor="middle" fill="#2a2a2a" font-weight="normal" stroke="#2a2a2a" stroke-width="0.18">40</text>
<line x1="310.20" y1="355.7" x2="310.20" y2="358.9" stroke="#1a1a1a" stroke-width="1.1"/>
<text transform="translate(310.20,369.00) scale(1,1.12)" font-size="7.9" text-anchor="middle" fill="#2a2a2a" font-weight="normal" stroke="#2a2a2a" stroke-width="0.18">50</text>
<line x1="337.40" y1="355.7" x2="337.40" y2="358.9" stroke="#1a1a1a" stroke-width="1.1"/>
<text transform="translate(337.40,369.00) scale(1,1.12)" font-size="7.9" text-anchor="middle" fill="#2a2a2a" font-weight="normal" stroke="#2a2a2a" stroke-width="0.18">60</text>
<line x1="364.60" y1="355.7" x2="364.60" y2="358.9" stroke="#1a1a1a" stroke-width="1.1"/>
<text transform="translate(364.60,369.00) scale(1,1.12)" font-size="7.9" text-anchor="middle" fill="#2a2a2a" font-weight="normal" stroke="#2a2a2a" stroke-width="0.18">70</text>
<text x="249.80" y="380.90" font-size="8.5" text-anchor="start" fill="#1a1a1a" font-weight="normal" textLength="41.5" lengthAdjust="spacingAndGlyphs" stroke="#1a1a1a" stroke-width="0.3">Time (months)</text>
<text transform="translate(146.5,304.9) rotate(-90)" x="0" y="0" font-size="9.6" text-anchor="middle" fill="#1a1a1a" stroke="#1a1a1a" stroke-width="0.3" textLength="75.6" lengthAdjust="spacingAndGlyphs">Overall survival probability</text>
<text x="336.00" y="248.10" font-size="7.3" text-anchor="start" fill="#222" font-weight="normal" textLength="54.2" lengthAdjust="spacingAndGlyphs">Median (95% CI)</text>
<text x="332.80" y="259.30" font-size="6.9" text-anchor="end" fill="#5b3a72" font-weight="normal" stroke="#5b3a72" stroke-width="0.18">Overall</text>
<text x="339.20" y="259.30" font-size="7.2" text-anchor="start" fill="#5b3a72" font-weight="normal" textLength="52.8" lengthAdjust="spacingAndGlyphs">44.4 (40.1-51.4)</text>
<text x="332.80" y="270.50" font-size="6.9" text-anchor="end" fill="#2a4572" font-weight="normal" stroke="#2a4572" stroke-width="0.18">1 prior LOT</text>
<text x="339.20" y="270.50" font-size="7.2" text-anchor="start" fill="#2a4572" font-weight="normal" textLength="47.5" lengthAdjust="spacingAndGlyphs">55.6 (44.8-NE)</text>
<text x="332.80" y="281.70" font-size="6.9" text-anchor="end" fill="#62ad52" font-weight="normal" stroke="#62ad52" stroke-width="0.18">2 prior LOT</text>
<text x="339.20" y="281.70" font-size="7.2" text-anchor="start" fill="#62ad52" font-weight="normal" textLength="52.8" lengthAdjust="spacingAndGlyphs">41.5 (33.0-52.1)</text>
<text x="332.80" y="292.90" font-size="6.9" text-anchor="end" fill="#56abdc" font-weight="normal" stroke="#56abdc" stroke-width="0.18">3 prior LOT</text>
<text x="339.20" y="292.90" font-size="7.2" text-anchor="start" fill="#56abdc" font-weight="normal" textLength="52.8" lengthAdjust="spacingAndGlyphs">39.2 (31.3-48.5)</text>
<polyline points="174.50,254.40 176.00,254.90 178.90,256.70 185.60,262.50 190.00,264.60 195.80,269.20 198.00,270.70 202.00,273.30 208.00,276.00 214.70,278.30 221.30,281.30 226.00,284.50 228.00,286.20 234.70,289.00 241.30,292.00 248.00,294.00 254.70,296.00 258.00,297.60 268.10,301.20 273.80,303.60 291.10,308.40 300.00,310.00 304.40,311.80 313.30,314.00 317.80,315.80 324.90,318.40 331.10,319.30 333.80,321.10 335.60,324.00 342.00,325.00 342.00,327.50 352.00,327.50 352.00,332.00 359.00,332.00 359.00,335.00 373.50,335.00" fill="none" stroke="#4aa6dc" stroke-width="1.4" stroke-linejoin="round" stroke-linecap="butt" opacity="1"/>
<path d="M260.00 297.11v2.40M263.95 298.52v2.40M269.13 300.43v2.40M273.61 302.32v2.40M279.02 303.85v2.40M284.53 305.38v2.40M287.79 306.28v2.40M290.84 307.13v2.40M297.19 308.30v2.40M301.23 309.30v2.40M305.17 310.79v2.40M312.15 312.52v2.40M317.03 314.29v2.40M323.38 316.64v2.40M328.28 317.69v2.40M333.84 319.96v2.40M337.44 323.09v2.40M342.98 326.30v2.40M349.45 326.30v2.40M354.54 330.80v2.40M360.51 333.80v2.40M366.20 333.80v2.40M369.45 333.80v2.40" stroke="#4aa6dc" stroke-width="0.8" fill="none"/>
<polyline points="174.50,254.40 176.00,254.90 178.90,256.70 185.60,262.50 190.00,264.60 195.80,269.20 198.00,270.70 202.00,273.30 208.00,276.00 214.70,278.30 221.30,281.30 226.00,284.50 228.00,286.20 234.70,289.00 241.30,292.00 248.00,294.00 254.70,296.00 258.00,297.50 268.10,300.40 279.60,302.70 291.10,305.60 300.00,307.80 308.90,309.10 317.80,312.20 326.70,315.30 333.80,316.70 340.00,318.30 343.00,321.00 350.00,322.00 359.00,323.20 361.00,325.50 364.00,328.00 373.00,328.00" fill="none" stroke="#3fa24a" stroke-width="1.7" stroke-linejoin="round" stroke-linecap="butt" opacity="1"/>
<path d="M196.00 268.14v2.40M202.82 272.47v2.40M209.62 275.35v2.40M212.84 276.46v2.40M216.18 277.77v2.40M222.52 280.93v2.40M228.47 285.20v2.40M234.15 287.57v2.40M238.38 289.47v2.40M243.80 291.55v2.40M249.23 293.17v2.40M254.55 294.76v2.40M258.19 296.35v2.40M262.91 297.71v2.40M267.48 299.02v2.40M273.38 300.26v2.40M280.36 301.69v2.40M287.15 303.40v2.40M292.33 304.70v2.40M297.11 305.89v2.40M301.18 306.77v2.40M304.33 307.23v2.40M307.44 307.69v2.40M312.30 309.08v2.40M316.57 310.57v2.40M321.09 312.15v2.40M327.66 314.29v2.40M332.76 315.29v2.40M338.00 316.58v2.40" stroke="#3fa24a" stroke-width="0.8" fill="none"/>
<polyline points="174.50,254.40 176.00,254.90 178.90,256.70 185.60,262.50 190.00,264.60 195.80,268.20 198.00,269.30 202.00,271.70 208.00,274.00 214.70,276.70 221.30,279.30 226.00,282.30 228.00,283.50 234.70,286.30 241.30,289.30 248.00,291.70 254.70,293.70 258.00,294.70 268.10,297.50 279.60,301.00 291.10,304.40 300.00,306.00 308.90,307.80 317.80,310.40 326.70,313.10 333.80,315.80 340.00,317.50 343.00,320.50 350.00,321.20 359.00,322.50 361.00,325.00 364.00,327.50 375.00,327.50" fill="none" stroke="#3a1a55" stroke-width="1.8" stroke-linejoin="round" stroke-linecap="butt" opacity="1"/>
<path d="M196.00 267.10v2.40M199.54 269.02v2.40M205.93 272.01v2.40M211.98 274.40v2.40M216.00 276.01v2.40M220.98 277.98v2.40M225.78 280.96v2.40M231.39 283.72v2.40M237.54 286.39v2.40M240.92 287.93v2.40M244.03 289.08v2.40M250.38 291.21v2.40M255.11 292.62v2.40M261.16 294.37v2.40M264.16 295.21v2.40M268.95 296.56v2.40M274.83 298.35v2.40M278.75 299.54v2.40M285.53 301.55v2.40M292.13 303.39v2.40M295.26 303.95v2.40M298.36 304.50v2.40M303.52 305.51v2.40M310.28 307.00v2.40M314.80 308.32v2.40M318.67 309.46v2.40M323.36 310.89v2.40M326.48 311.83v2.40M330.36 313.29v2.40M335.11 314.96v2.40M340.10 316.40v2.40M344.03 319.40v2.40M347.95 319.80v2.40M351.83 320.26v2.40M356.67 320.96v2.40M360.83 323.58v2.40M363.91 326.23v2.40M370.26 326.30v2.40" stroke="#3a1a55" stroke-width="0.8" fill="none"/>
<polyline points="174.50,254.40 176.00,254.90 178.90,256.70 185.60,262.50 190.00,264.60 195.80,266.80 198.00,267.70 202.00,269.30 208.00,271.00 214.70,273.00 221.30,276.00 226.00,278.30 228.00,279.30 232.00,280.30 237.30,281.30 241.30,283.00 244.00,285.30 250.00,286.00 254.70,288.00 258.00,288.70 262.30,290.00 273.80,292.90 285.40,296.30 293.40,298.60 295.70,299.80 300.00,299.80 307.10,301.10 313.30,302.90 322.20,304.70 326.70,306.00 328.40,308.20 337.30,308.50 339.00,310.00 359.00,310.00 359.00,313.50 364.00,313.50 364.00,320.00 374.00,320.00" fill="none" stroke="#1d3c6c" stroke-width="1.8" stroke-linejoin="round" stroke-linecap="butt" opacity="1"/>
<path d="M196.00 265.68v2.40M199.94 267.28v2.40M203.36 268.48v2.40M207.94 269.78v2.40M211.56 270.86v2.40M214.83 271.86v2.40M219.43 273.95v2.40M226.11 277.15v2.40M232.31 279.16v2.40M238.37 280.55v2.40M242.26 282.61v2.40M247.40 284.50v2.40M251.51 285.44v2.40M255.20 286.91v2.40M258.62 287.69v2.40M262.48 288.85v2.40M269.19 290.54v2.40M275.51 292.20v2.40M281.73 294.03v2.40M287.94 295.83v2.40M291.71 296.91v2.40M295.95 298.60v2.40M301.46 298.87v2.40M307.38 299.98v2.40M313.80 301.80v2.40M320.32 303.12v2.40M323.67 303.92v2.40M329.09 307.02v2.40M334.78 307.22v2.40M339.80 308.80v2.40M343.52 308.80v2.40M348.41 308.80v2.40M351.77 308.80v2.40M358.51 308.80v2.40M364.97 318.80v2.40M370.16 318.80v2.40" stroke="#1d3c6c" stroke-width="0.8" fill="none"/>
<polyline points="174.50,254.40 176.00,254.90 178.90,256.70 185.60,262.50 190.00,264.60" fill="none" stroke="#2b2558" stroke-width="2.4" stroke-linejoin="round" stroke-linecap="butt" opacity="1"/>
<text transform="translate(127.80,394.20) scale(1,1.08)" font-size="7.6" text-anchor="start" fill="#222" font-weight="normal" textLength="33.8" lengthAdjust="spacingAndGlyphs" stroke="#222" stroke-width="0.18">No. at risk</text>
<text transform="translate(161.50,405.90) scale(1,1.1)" font-size="7.6" text-anchor="end" fill="#2a4572" font-weight="normal" stroke="#2a4572" stroke-width="0.18">1 PL</text>
<text transform="translate(174.20,405.90) scale(1,1.1)" font-size="7.7" text-anchor="middle" fill="#2a4572" font-weight="normal" stroke="#2a4572" stroke-width="0.18">561</text>
<text transform="translate(201.40,405.90) scale(1,1.1)" font-size="7.7" text-anchor="middle" fill="#2a4572" font-weight="normal" stroke="#2a4572" stroke-width="0.18">377</text>
<text transform="translate(228.60,405.90) scale(1,1.1)" font-size="7.7" text-anchor="middle" fill="#2a4572" font-weight="normal" stroke="#2a4572" stroke-width="0.18">259</text>
<text transform="translate(255.80,405.90) scale(1,1.1)" font-size="7.7" text-anchor="middle" fill="#2a4572" font-weight="normal" stroke="#2a4572" stroke-width="0.18">167</text>
<text transform="translate(283.00,405.90) scale(1,1.1)" font-size="7.7" text-anchor="middle" fill="#2a4572" font-weight="normal" stroke="#2a4572" stroke-width="0.18">106</text>
<text transform="translate(310.20,405.90) scale(1,1.1)" font-size="7.7" text-anchor="middle" fill="#2a4572" font-weight="normal" stroke="#2a4572" stroke-width="0.18">53</text>
<text transform="translate(337.40,405.90) scale(1,1.1)" font-size="7.7" text-anchor="middle" fill="#2a4572" font-weight="normal" stroke="#2a4572" stroke-width="0.18">29</text>
<text transform="translate(364.60,405.90) scale(1,1.1)" font-size="7.7" text-anchor="middle" fill="#2a4572" font-weight="normal" stroke="#2a4572" stroke-width="0.18">5</text>
<text transform="translate(161.50,417.60) scale(1,1.1)" font-size="7.6" text-anchor="end" fill="#62ad52" font-weight="normal" stroke="#62ad52" stroke-width="0.18">2 PL</text>
<text transform="translate(174.20,417.60) scale(1,1.1)" font-size="7.7" text-anchor="middle" fill="#62ad52" font-weight="normal" stroke="#62ad52" stroke-width="0.18">566</text>
<text transform="translate(201.40,417.60) scale(1,1.1)" font-size="7.7" text-anchor="middle" fill="#62ad52" font-weight="normal" stroke="#62ad52" stroke-width="0.18">381</text>
<text transform="translate(228.60,417.60) scale(1,1.1)" font-size="7.7" text-anchor="middle" fill="#62ad52" font-weight="normal" stroke="#62ad52" stroke-width="0.18">256</text>
<text transform="translate(255.80,417.60) scale(1,1.1)" font-size="7.7" text-anchor="middle" fill="#62ad52" font-weight="normal" stroke="#62ad52" stroke-width="0.18">161</text>
<text transform="translate(283.00,417.60) scale(1,1.1)" font-size="7.7" text-anchor="middle" fill="#62ad52" font-weight="normal" stroke="#62ad52" stroke-width="0.18">103</text>
<text transform="translate(310.20,417.60) scale(1,1.1)" font-size="7.7" text-anchor="middle" fill="#62ad52" font-weight="normal" stroke="#62ad52" stroke-width="0.18">69</text>
<text transform="translate(337.40,417.60) scale(1,1.1)" font-size="7.7" text-anchor="middle" fill="#62ad52" font-weight="normal" stroke="#62ad52" stroke-width="0.18">31</text>
<text transform="translate(364.60,417.60) scale(1,1.1)" font-size="7.7" text-anchor="middle" fill="#62ad52" font-weight="normal" stroke="#62ad52" stroke-width="0.18">11</text>
<text transform="translate(161.50,429.30) scale(1,1.1)" font-size="7.6" text-anchor="end" fill="#56abdc" font-weight="normal" stroke="#56abdc" stroke-width="0.18">3 PL</text>
<text transform="translate(174.20,429.30) scale(1,1.1)" font-size="7.7" text-anchor="middle" fill="#56abdc" font-weight="normal" stroke="#56abdc" stroke-width="0.18">328</text>
<text transform="translate(201.40,429.30) scale(1,1.1)" font-size="7.7" text-anchor="middle" fill="#56abdc" font-weight="normal" stroke="#56abdc" stroke-width="0.18">231</text>
<text transform="translate(228.60,429.30) scale(1,1.1)" font-size="7.7" text-anchor="middle" fill="#56abdc" font-weight="normal" stroke="#56abdc" stroke-width="0.18">168</text>
<text transform="translate(255.80,429.30) scale(1,1.1)" font-size="7.7" text-anchor="middle" fill="#56abdc" font-weight="normal" stroke="#56abdc" stroke-width="0.18">112</text>
<text transform="translate(283.00,429.30) scale(1,1.1)" font-size="7.7" text-anchor="middle" fill="#56abdc" font-weight="normal" stroke="#56abdc" stroke-width="0.18">69</text>
<text transform="translate(310.20,429.30) scale(1,1.1)" font-size="7.7" text-anchor="middle" fill="#56abdc" font-weight="normal" stroke="#56abdc" stroke-width="0.18">50</text>
<text transform="translate(337.40,429.30) scale(1,1.1)" font-size="7.7" text-anchor="middle" fill="#56abdc" font-weight="normal" stroke="#56abdc" stroke-width="0.18">22</text>
<text transform="translate(364.60,429.30) scale(1,1.1)" font-size="7.7" text-anchor="middle" fill="#56abdc" font-weight="normal" stroke="#56abdc" stroke-width="0.18">4</text>
<text transform="translate(161.50,441.00) scale(1,1.1)" font-size="7.6" text-anchor="end" fill="#5b3a72" font-weight="normal" stroke="#5b3a72" stroke-width="0.18">Overall</text>
<text transform="translate(174.20,441.00) scale(1,1.1)" font-size="7.7" text-anchor="middle" fill="#3a3540" font-weight="normal" stroke="#3a3540" stroke-width="0.18">1455</text>
<text transform="translate(201.40,441.00) scale(1,1.1)" font-size="7.7" text-anchor="middle" fill="#5a3a74" font-weight="normal" stroke="#5a3a74" stroke-width="0.18">989</text>
<text transform="translate(228.60,441.00) scale(1,1.1)" font-size="7.7" text-anchor="middle" fill="#5a3a74" font-weight="normal" stroke="#5a3a74" stroke-width="0.18">683</text>
<text transform="translate(255.80,441.00) scale(1,1.1)" font-size="7.7" text-anchor="middle" fill="#5a3a74" font-weight="normal" stroke="#5a3a74" stroke-width="0.18">440</text>
<text transform="translate(283.00,441.00) scale(1,1.1)" font-size="7.7" text-anchor="middle" fill="#5a3a74" font-weight="normal" stroke="#5a3a74" stroke-width="0.18">278</text>
<text transform="translate(310.20,441.00) scale(1,1.1)" font-size="7.7" text-anchor="middle" fill="#5a3a74" font-weight="normal" stroke="#5a3a74" stroke-width="0.18">172</text>
<text transform="translate(337.40,441.00) scale(1,1.1)" font-size="7.7" text-anchor="middle" fill="#5a3a74" font-weight="normal" stroke="#5a3a74" stroke-width="0.18">82</text>
<text transform="translate(364.60,441.00) scale(1,1.1)" font-size="7.7" text-anchor="middle" fill="#5a3a74" font-weight="normal" stroke="#5a3a74" stroke-width="0.18">20</text>
<rect x="0.5" y="0.5" width="519" height="449" fill="none" stroke="#666" stroke-width="1"/>
</svg></body></html>
